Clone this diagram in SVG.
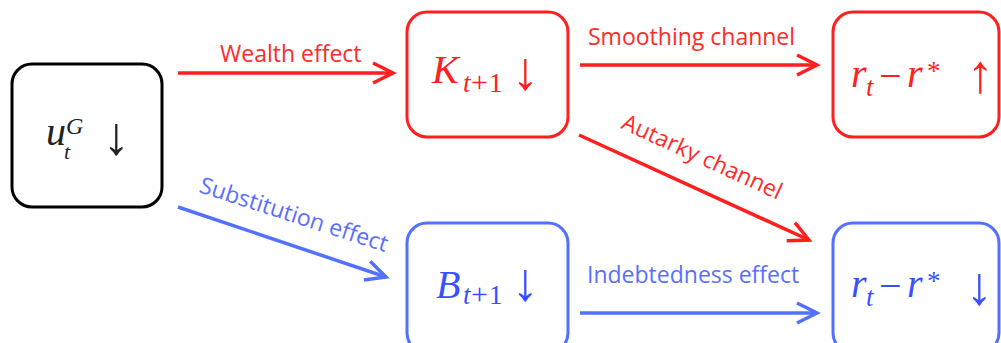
<svg xmlns="http://www.w3.org/2000/svg" width="1001" height="343" viewBox="0 0 1001 343">
<style>
.box{fill:#fff;stroke-width:3}
.red{stroke:#ff1f1f}
.blue{stroke:#5470ff}
.blk{stroke:#000}
.lbl{font-family:"Open Sans","Liberation Sans",sans-serif;font-size:23px}
.lr{fill:#ff2a2a}
.lb{fill:#5a6fff}
.m{font-family:"Liberation Serif","DejaVu Serif",serif;font-size:40px}
.s{font-size:27px}
.p{font-size:30px}
.i{font-style:italic}
.ar{font-size:54px}
.conn{fill:none;stroke-width:3.5}
</style>
<defs>
<marker id="arR" viewBox="-24 -12 28 24" refX="0" refY="0" markerWidth="28" markerHeight="24" markerUnits="userSpaceOnUse" orient="auto">
<path d="M-20,-10 L0,0 L-20,10" fill="none" stroke="#ff1f1f" stroke-width="3.5"/>
</marker>
<marker id="arB" viewBox="-24 -12 28 24" refX="0" refY="0" markerWidth="28" markerHeight="24" markerUnits="userSpaceOnUse" orient="auto">
<path d="M-20,-10 L0,0 L-20,10" fill="none" stroke="#5470ff" stroke-width="3.5"/>
</marker>
</defs>
<rect width="1001" height="343" fill="#fff"/>
<g id="connectors">
<line class="conn red" x1="178" y1="73" x2="393" y2="73" marker-end="url(#arR)"/>
<line class="conn red" x1="580" y1="65" x2="817" y2="65" marker-end="url(#arR)"/>
<line class="conn red" x1="579" y1="135" x2="809" y2="240" marker-end="url(#arR)"/>
<line class="conn blue" x1="178" y1="207" x2="386" y2="277" marker-end="url(#arB)"/>
<line class="conn blue" x1="580" y1="313" x2="817" y2="313" marker-end="url(#arB)"/>
<text class="lbl lr" x="220" y="62">Wealth effect</text>
<text class="lbl lr" x="588" y="45">Smoothing channel</text>
<text class="lbl lr" transform="translate(620,128) rotate(24.5)">Autarky channel</text>
<text class="lbl lb" transform="translate(198,192) rotate(17.8)">Substitution effect</text>
<text class="lbl lb" x="587" y="283">Indebtedness effect</text>
</g>
<g id="node-u">
<rect class="box blk" x="12" y="64" width="150" height="143" rx="20"/>
<text class="m" fill="#222"><tspan class="i" x="46" y="145">u</tspan><tspan class="i" font-size="24" x="66" y="134">G</tspan><tspan class="i" font-size="22" x="64" y="159">t</tspan><tspan class="ar" x="103" y="154">↓</tspan></text>
</g>
<g id="node-K">
<rect class="box red" x="407" y="12" width="161" height="125" rx="20"/>
<text class="m" fill="#ff2020"><tspan class="i" x="432" y="83">K</tspan><tspan class="i s" x="463" y="92">t</tspan><tspan class="p" x="471" y="92">+</tspan><tspan class="s" x="489" y="92">1</tspan><tspan class="ar" x="512" y="89">↓</tspan></text>
</g>
<g id="node-r-up">
<rect class="box red" x="833" y="12" width="166" height="125" rx="20"/>
<text class="m" fill="#ff2020"><tspan class="i" x="851" y="87">r</tspan><tspan class="i s" x="866" y="96">t</tspan><tspan x="879" y="89">−</tspan><tspan class="i" x="907" y="87">r</tspan><tspan class="s" x="927" y="80">*</tspan><tspan class="ar" x="967" y="92">↑</tspan></text>
</g>
<g id="node-B">
<rect class="box blue" x="407" y="223" width="161" height="130" rx="20"/>
<text class="m" fill="#3a4fff"><tspan class="i" x="436" y="298">B</tspan><tspan class="i s" x="463" y="304">t</tspan><tspan class="p" x="471" y="304">+</tspan><tspan class="s" x="489" y="304">1</tspan><tspan class="ar" x="512" y="300">↓</tspan></text>
</g>
<g id="node-r-down">
<rect class="box blue" x="833" y="223" width="166" height="130" rx="20"/>
<text class="m" fill="#3a4fff"><tspan class="i" x="851" y="297">r</tspan><tspan class="i s" x="866" y="306">t</tspan><tspan x="879" y="299">−</tspan><tspan class="i" x="907" y="297">r</tspan><tspan class="s" x="927" y="290">*</tspan><tspan class="ar" x="966" y="304">↓</tspan></text>
</g>
</svg>
